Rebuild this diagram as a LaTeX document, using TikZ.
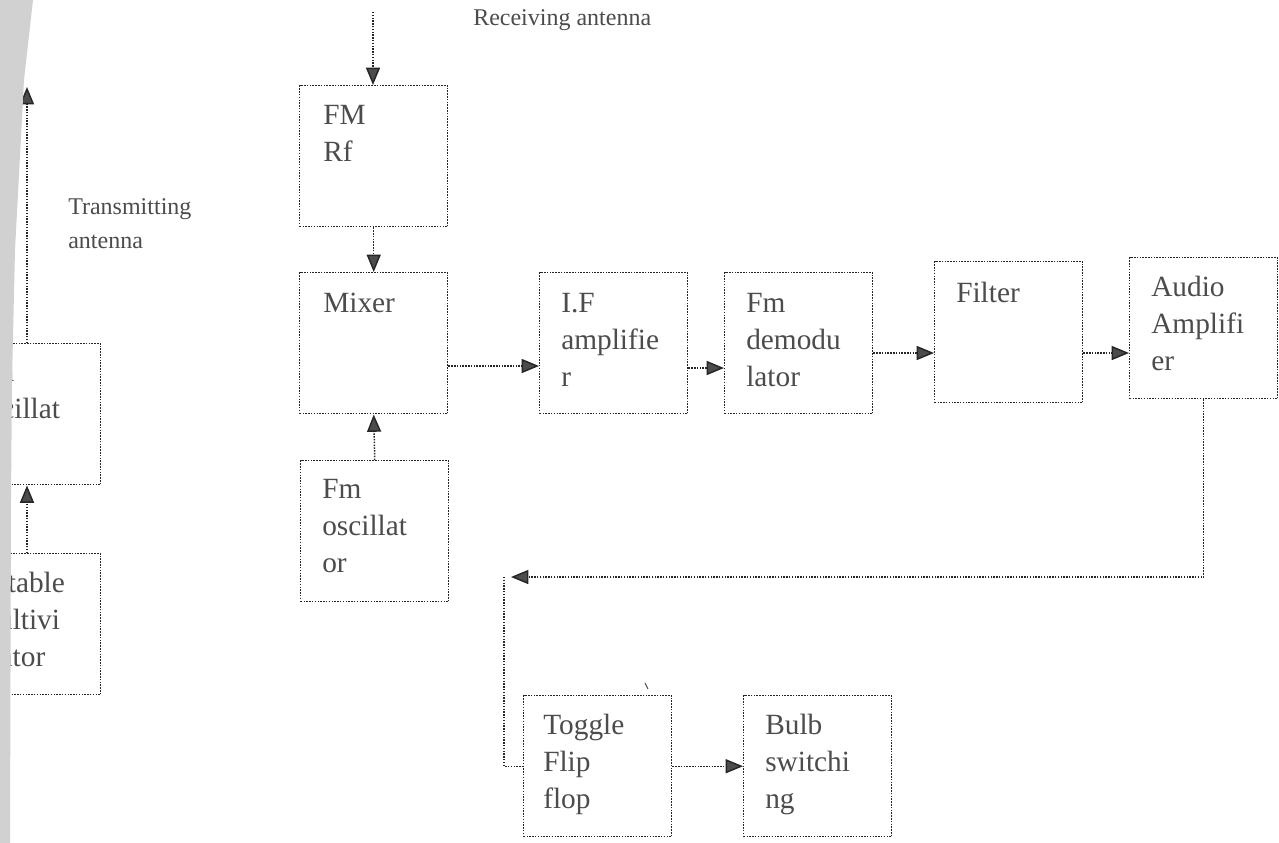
\documentclass[tikz,border=0pt]{standalone}
\usepackage{fontspec}
\setmainfont{Liberation Serif}
\usetikzlibrary{arrows.meta}
\begin{document}
\begin{tikzpicture}[x=0.75pt,y=-0.75pt,
  blk/.style={draw=black!85, densely dotted, line width=1.1pt, minimum width=111pt, minimum height=105.75pt, inner sep=0pt, anchor=north west},
  txt/.style={anchor=north west, align=left, inner sep=0pt, font=\fontsize{22}{27.75}\selectfont, text=black!70},
  lbl/.style={anchor=north west, align=left, inner sep=0pt, font=\fontsize{18}{25.5}\selectfont, text=black!70},
  wire/.style={draw=black!85, densely dotted, line width=1.1pt},
  conn/.style={wire, -{Triangle[length=13pt,width=10.5pt,fill=black!70]}}
]
\useasboundingbox (0,0) rectangle (1279,843);
\clip (0,0) rectangle (1279,843);
\fill[white] (0,0) rectangle (1279,843);

% receiver chain
\node[blk] (rf)   at (299,85)  {};
\node[blk] (mix)  at (299,272) {};
\node[blk] (osc)  at (300,460) {};
\node[blk] (lf)   at (539,272) {};
\node[blk] (dem)  at (724,272) {};
\node[blk] (fil)  at (934,261) {};
\node[blk] (aud)  at (1129,257) {};
\node[blk] (tog)  at (523,695) {};
\node[blk] (bulb) at (743,695) {};
% transmitter (cut at the left edge)
\node[blk] (tosc) at (-48,343) {};
\node[blk] (ast)  at (-48,553) {};

\node[txt] (rft)   at ([shift={(24,20)}]rf.north west)   {FM\\Rf};
\node[txt] (mixt)  at ([shift={(24,21)}]mix.north west)  {Mixer};
\node[txt] (osct)  at ([shift={(22,19)}]osc.north west)  {Fm\\oscillat\\or};
\node[txt] (lft)   at ([shift={(22,21)}]lf.north west)   {I.F\\amplifie\\r};
\node[txt] (demt)  at ([shift={(22,21)}]dem.north west)  {Fm\\demodu\\lator};
\node[txt] (filt)  at ([shift={(22,21)}]fil.north west)  {Filter};
\node[txt] (audt)  at ([shift={(22,19)}]aud.north west)  {Audio\\Amplifi\\er};
\node[txt] (togt)  at ([shift={(20,19)}]tog.north west)  {Toggle\\Flip\\flop};
\node[txt] (bulbt) at ([shift={(22,19)}]bulb.north west) {Bulb\\switchi\\ng};
\node[txt] (tosct) at ([shift={(23,19)}]tosc.north west) {Fm\\oscillat\\or};
\node[txt] (astt)  at ([shift={(23,19)}]ast.north west)  {Astable\\multivi\\brator};

\node[lbl] (rxl) at (473,9)   {Receiving antenna};
\node[lbl] (txl) at (68,198)  {Transmitting\\antenna};

% connectors
\coordinate (rxtop) at (373,12);
\draw[conn] (rxtop) -- (rxtop |- rf.north);
\draw[conn] (rf.south) -- (mix.north);
\draw[conn] (osc.north) -- (mix.south);
\coordinate (y1) at (0,366);
\coordinate (y2) at (0,368);
\coordinate (y3) at (0,353);
\draw[conn] (mix.east |- y1) -- (lf.west |- y1);
\draw[conn] (lf.east |- y2) -- (dem.west |- y2);
\draw[conn] (dem.east |- y3) -- (fil.west |- y3);
\draw[conn] (fil.east |- y3) -- (aud.west |- y3);
\coordinate (c1) at (511,577);
\coordinate (c2) at (504,577);
\draw[conn] (aud.south) |- (c1);
\draw[wire] (c2) |- (tog.west);
\draw[conn] (tog.east) -- (bulb.west);
\draw[black!70, line width=0.8pt] (645,683) -- (648,689);

\coordinate (ax) at (27,0);
\coordinate (txtop) at (27,87);
\draw[conn] (ast.north -| ax) -- (tosc.south -| ax);
\draw[conn] (tosc.north -| ax) -- (txtop);

% shaded strip along the left edge
\fill[black!18] (0,0) -- (33,0) -- (24,80) -- (15,250) -- (12,380) -- (11,500) -- (10,843) -- (0,843) -- cycle;
\end{tikzpicture}
\end{document}
